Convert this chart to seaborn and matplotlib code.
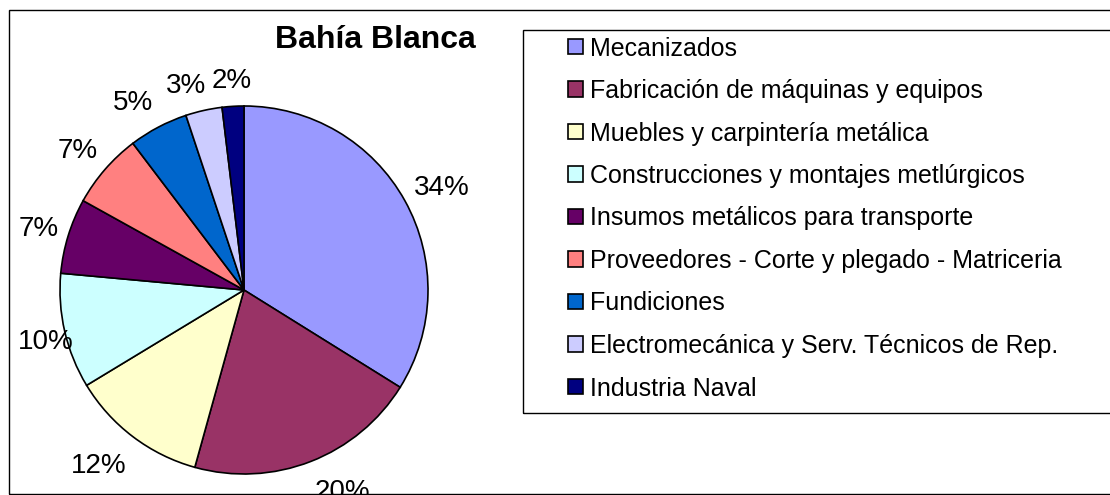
import matplotlib
matplotlib.use("Agg")
import matplotlib.pyplot as plt
from matplotlib.patches import Rectangle
import numpy as np
import seaborn as sns

categories = [
    "Mecanizados",
    "Fabricación de máquinas y equipos",
    "Muebles y carpintería metálica",
    "Construcciones y montajes metlúrgicos",
    "Insumos metálicos para transporte",
    "Proveedores - Corte y plegado - Matriceria",
    "Fundiciones",
    "Electromecánica y Serv. Técnicos de Rep.",
    "Industria Naval",
]
# shares (%) read from the slice boundaries; labels show rounded percentages
values = [33.8, 20.4, 12.0, 10.1, 6.6, 6.6, 5.2, 3.2, 1.9]
colors = ["#9999FF", "#993366", "#FFFFCC", "#CCFFFF", "#660066",
          "#FF8080", "#0066CC", "#CCCCFF", "#000080"]
title = "Bahía Blanca"

sns.set_theme(style="white")
plt.rcParams["font.family"] = ["Liberation Sans", "DejaVu Sans"]
plt.rcParams["text.color"] = "black"

W, H = 1110, 495
fig = plt.figure(figsize=(W / 100, H / 100), dpi=100)
fig.patch.set_facecolor("white")

# pie axes: centre (244, 290) px, radius 184 px
cx, cy, r = 244, 290, 184
ax = fig.add_axes([(cx - r) / W, 1 - (cy + r) / H, 2 * r / W, 2 * r / H])
palette = sns.color_palette(colors)
wedges, _, autotexts = ax.pie(
    values, colors=palette, startangle=90, counterclock=False,
    autopct="%1.0f%%", pctdistance=1.2, radius=1,
    wedgeprops=dict(edgecolor="black", linewidth=1.2),
    textprops=dict(fontsize=20, color="black"),
)
ax.set_xlim(-1, 1)
ax.set_ylim(-1, 1)
ax.set_aspect("equal")
ax.axis("off")

# title
fig.text(375 / W, 1 - 40 / H, title, ha="center", va="center",
         fontsize=23, fontweight="bold", color="black")

# outer chart border
fig.patches.append(Rectangle((8.5 / W, 1 - 494 / H), 1.2, (494 - 9.5) / H,
                             transform=fig.transFigure, fill=False,
                             edgecolor="black", linewidth=1.0))
# legend frame
fig.patches.append(Rectangle((522.5 / W, 1 - 413 / H), 1.0, (413 - 29.5) / H,
                             transform=fig.transFigure, fill=False,
                             edgecolor="black", linewidth=1.0))

leg = fig.legend(wedges, categories, loc="upper left",
                 bbox_to_anchor=(568 / W, 1 - 36.5 / H),
                 frameon=False, borderpad=0, borderaxespad=0,
                 fontsize=18, handlelength=0.58, handleheight=0.58,
                 handletextpad=0.3, labelspacing=0.74)
for t in leg.get_texts():
    t.set_color("black")
for h in leg.legend_handles:
    h.set_edgecolor("black")
    h.set_linewidth(1.2)

# spreadsheet-style placement of the outside percentage labels:
# the label box side facing the pie sits a small gap outside the rim,
# labels stay inside the chart area and neighbours are pushed apart.
fig.canvas.draw()
renderer = fig.canvas.get_renderer()
c0 = ax.transData.transform((0, 0))
rpx = ax.transData.transform((1, 0))[0] - c0[0]
gap, pady, left_min, glyph_shift = 10.0, 5.0, 18.0, 3.0
pos, size = [], []
for wdg, t in zip(wedges, autotexts):
    ang = np.deg2rad((wdg.theta1 + wdg.theta2) / 2)
    ux, uy = np.cos(ang), np.sin(ang)
    bb = t.get_window_extent(renderer)
    w, h = bb.width, bb.height
    px = c0[0] + (rpx + gap) * ux + (w / 2) * np.clip(ux / 0.35, -1, 1)
    py = (c0[1] + (rpx + gap) * uy
          + (h / 2 + pady) * np.clip(uy / 0.8, -1, 1) - glyph_shift)
    px = max(px, left_min + w / 2)
    pos.append([px, py])
    size.append((w, h))
for i in range(len(pos) - 1):
    j = i + 1
    (wi, hi), (wj, hj) = size[i], size[j]
    dx = pos[j][0] - pos[i][0]
    dy = pos[j][1] - pos[i][1]
    need = (wi + wj) / 2 + 6
    if abs(dx) < need and abs(dy) < (hi + hj) / 2:
        s = (need - abs(dx)) / 2
        sgn = 1 if dx >= 0 else -1
        pos[i][0] -= sgn * s
        pos[j][0] += sgn * s
inv = ax.transData.inverted()
for t, p in zip(autotexts, pos):
    t.set_position(inv.transform(p))
    t.set_ha("center")
    t.set_va("center")

fig.savefig("out.png", dpi=100)
